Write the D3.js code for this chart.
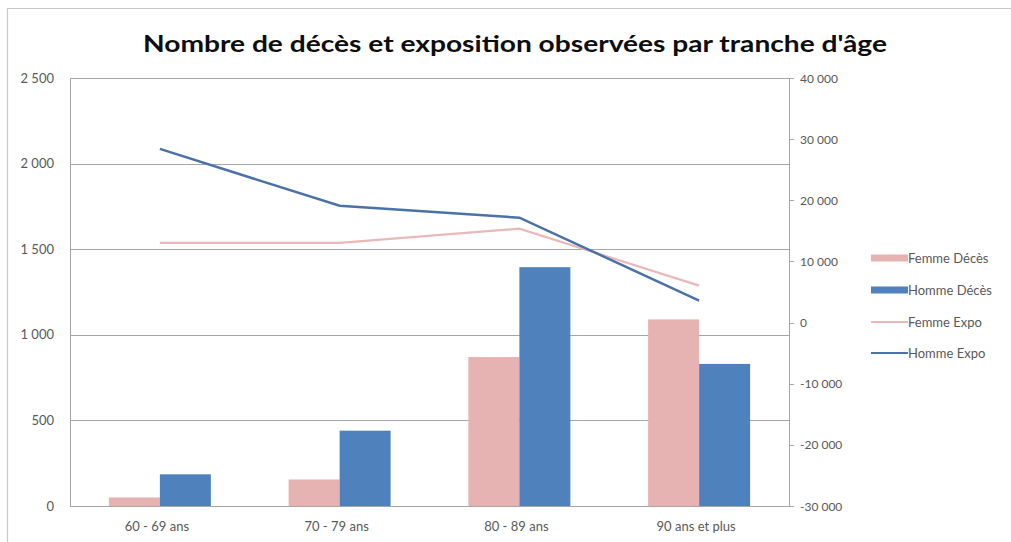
<!DOCTYPE html>
<html><head><meta charset="utf-8">
<script src="https://cdn.jsdelivr.net/npm/d3@7"></script>
<style>body{margin:0;background:#fff}svg{display:block}</style>
</head><body><svg id="c" width="1011" height="542"></svg>
<script>
const categories = ["60 - 69 ans", "70 - 79 ans", "80 - 89 ans", "90 ans et plus"];
const femmeDeces = [50, 155, 870, 1090];
const hommeDeces = [185, 440, 1395, 830];
const femmeExpo = [13050, 13050, 15350, 6050];
const hommeExpo = [28400, 19100, 17150, 3600];
const leftTicks = [0, 500, 1000, 1500, 2000, 2500];
const rightTicks = [-30000, -20000, -10000, 0, 10000, 20000, 30000, 40000];
const seriesNames = ["Femme Décès", "Homme Décès", "Femme Expo", "Homme Expo"];

const svg = d3.select("#c");
const L = 70, R = 789, T = 78, B = 506;
const fmtL = v => d3.format(",")(v).replace(/,/g, " ");
const fmtR = v => d3.format(",")(v).replace(/,/g, " ").replace("\u2212", "-");
const font = "Lato, 'Open Sans', sans-serif";
const pink = "#e6b3b2", blue = "#4f81bd", pinkLine = "#e9b9b9", blueLine = "#4a72a8";

// chart border
svg.append("path").attr("d", `M7.5,542 V8.5 H1011`).attr("fill", "none").attr("stroke", "#c8c8c8").attr("stroke-width", 1.2);

const x = d3.scaleBand().domain(categories).range([L, R]);
const yL = d3.scaleLinear().domain([0, 2500]).range([B, T]);
const yR = d3.scaleLinear().domain([-30000, 40000]).range([B, T]);

// gridlines
svg.append("g").selectAll("line").data(leftTicks).join("line")
  .attr("x1", L).attr("x2", R).attr("y1", d => Math.round(yL(d)) + .5).attr("y2", d => Math.round(yL(d)) + .5)
  .attr("stroke", "#a6a6a6").attr("stroke-width", 1);

// left labels
svg.append("g").selectAll("text").data(leftTicks).join("text")
  .attr("x", 54).attr("y", d => yL(d) + 4.5).attr("text-anchor", "end")
  .attr("font-family", font).attr("font-size", 13).attr("fill", "#595959").text(fmtL);

// left axis line
svg.append("line").attr("x1", L + .5).attr("x2", L + .5).attr("y1", T).attr("y2", B).attr("stroke", "#a6a6a6");

// bars
const bw = 51;
const grp = svg.append("g");
grp.selectAll(".f").data(categories).join("rect")
  .attr("x", (d) => x(d) + x.bandwidth() / 2 - bw).attr("width", bw)
  .attr("y", (d, i) => yL(femmeDeces[i])).attr("height", (d, i) => B - yL(femmeDeces[i]))
  .attr("fill", pink);
grp.selectAll(".h").data(categories).join("rect")
  .attr("x", (d) => x(d) + x.bandwidth() / 2).attr("width", bw)
  .attr("y", (d, i) => yL(hommeDeces[i])).attr("height", (d, i) => B - yL(hommeDeces[i]))
  .attr("fill", blue);

// bottom axis line
svg.append("line").attr("x1", L).attr("x2", R).attr("y1", B + .5).attr("y2", B + .5).attr("stroke", "#a6a6a6");

// category labels
svg.append("g").selectAll("text").data(categories).join("text")
  .attr("x", d => x(d) + x.bandwidth() / 2 - 3).attr("y", 531).attr("text-anchor", "middle")
  .attr("font-family", font).attr("font-size", 13).attr("fill", "#595959").text(d => d);

// lines
const line = arr => d3.line().x((d, i) => x(categories[i]) + x.bandwidth() / 2).y(d => yR(d))(arr);
svg.append("path").attr("d", line(femmeExpo)).attr("fill", "none").attr("stroke", pinkLine).attr("stroke-width", 2.2);
svg.append("path").attr("d", line(hommeExpo)).attr("fill", "none").attr("stroke", blueLine).attr("stroke-width", 2.5);

// right axis
svg.append("line").attr("x1", R + .5).attr("x2", R + .5).attr("y1", T).attr("y2", B).attr("stroke", "#a6a6a6");
svg.append("g").selectAll("line").data(rightTicks).join("line")
  .attr("x1", R).attr("x2", R + 5).attr("y1", d => Math.round(yR(d)) + .5).attr("y2", d => Math.round(yR(d)) + .5)
  .attr("stroke", "#a6a6a6");
svg.append("g").selectAll("text").data(rightTicks).join("text")
  .attr("x", 800).attr("y", d => yR(d) + 4.5)
  .attr("font-family", font).attr("font-size", 12).attr("fill", "#595959").text(fmtR);

// title
svg.append("text").attr("x", 515).attr("y", 52).attr("text-anchor", "middle")
  .attr("font-family", font).attr("font-weight", "bold").attr("font-size", 23).attr("fill", "#0d0d0d")
  .attr("textLength", 744).attr("lengthAdjust", "spacingAndGlyphs")
  .text("Nombre de décès et exposition observées par tranche d'âge");

// legend
const lg = svg.append("g");
const ly = [258, 290, 322, 353];
const styles = [
  {type: "rect", c: pink}, {type: "rect", c: blue},
  {type: "line", c: pinkLine}, {type: "line", c: blueLine}];
seriesNames.forEach((n, i) => {
  if (styles[i].type === "rect") {
    lg.append("rect").attr("x", 871).attr("y", ly[i] - 3.5).attr("width", 37).attr("height", 7).attr("fill", styles[i].c);
  } else {
    lg.append("line").attr("x1", 871).attr("x2", 908).attr("y1", ly[i]).attr("y2", ly[i]).attr("stroke", styles[i].c).attr("stroke-width", 2.2);
  }
  lg.append("text").attr("x", 908).attr("y", ly[i] + 4.5).attr("font-family", font).attr("font-size", 13)
    .attr("fill", "#595959").text(n);
});
</script></body></html>
